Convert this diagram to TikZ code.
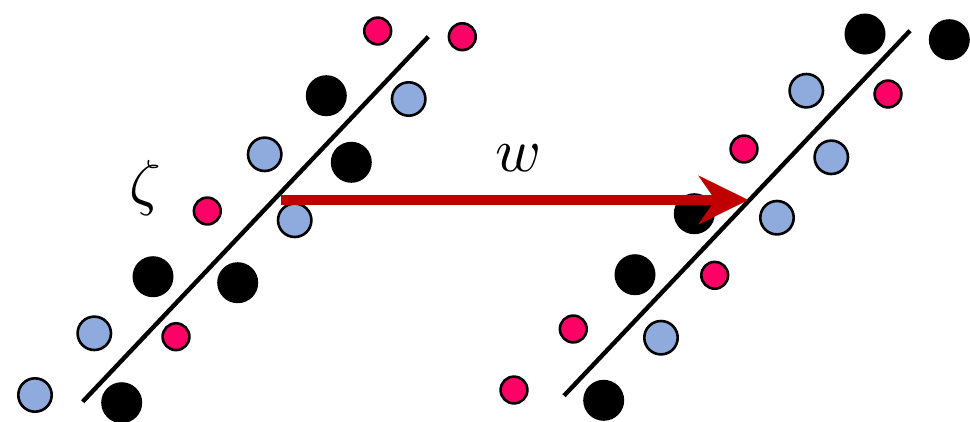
\documentclass[tikz,border=0pt]{standalone}
\usetikzlibrary{arrows.meta}
\definecolor{pinkc}{HTML}{FF0066}
\definecolor{bluec}{HTML}{8FAADC}
\definecolor{arrowred}{HTML}{C00000}
\begin{document}
\begin{tikzpicture}[x=1pt,y=-1pt,
  pinkdot/.style={circle,draw=black,line width=2.6pt,fill=pinkc,minimum size=26.8pt,inner sep=0pt},
  bluedot/.style={circle,draw=black,line width=2.6pt,fill=bluec,minimum size=33.4pt,inner sep=0pt},
  blackdot/.style={circle,fill=black,minimum size=41pt,inner sep=0pt},
  sepline/.style={line width=4.4pt,black},
  wvec/.style={line width=10pt,arrowred,-{Stealth[length=50pt,width=49pt,inset=17pt,line width=0.1pt]}},
  biglabel/.style={inner sep=0pt,scale=6.2}]
\useasboundingbox (0,0) rectangle (970,421);
% left panel dots
\node[pinkdot] (lp1) at (377.7,31) {};
\node[pinkdot] (lp2) at (462.3,36.7) {};
\node[pinkdot] (lp3) at (207.3,211) {};
\node[pinkdot] (lp4) at (176,336.7) {};
\node[bluedot] (lb1) at (408.7,99) {};
\node[bluedot] (lb2) at (264.7,154.3) {};
\node[bluedot] (lb3) at (294.7,220.3) {};
\node[bluedot] (lb4) at (94.3,333.3) {};
\node[bluedot] (lb5) at (35,395) {};
\node[blackdot] (lk1) at (326.3,95.7) {};
\node[blackdot] (lk2) at (351.3,162.3) {};
\node[blackdot] (lk3) at (153,276.7) {};
\node[blackdot] (lk4) at (237.7,282.7) {};
\node[blackdot] (lk5) at (121.7,402.7) {};
% right panel dots
\node[blackdot] (rk1) at (865,34) {};
\node[blackdot] (rk2) at (949.3,39.7) {};
\node[blackdot] (rk3) at (694.3,213.7) {};
\node[blackdot] (rk4) at (635,274.7) {};
\node[blackdot] (rk5) at (603.7,400.3) {};
\node[bluedot] (rb1) at (806.3,90.7) {};
\node[bluedot] (rb2) at (831.3,157.3) {};
\node[bluedot] (rb3) at (777,217.7) {};
\node[bluedot] (rb4) at (661,337.7) {};
\node[pinkdot] (rp1) at (888,94) {};
\node[pinkdot] (rp2) at (744,149) {};
\node[pinkdot] (rp3) at (714.7,275.3) {};
\node[pinkdot] (rp4) at (573.3,329) {};
\node[pinkdot] (rp5) at (514,390) {};
% separating lines
\coordinate (l0) at (82.7,401.7);
\coordinate (l1) at (428.3,36.7);
\coordinate (r0) at (564,395.7);
\coordinate (r1) at (910,30.7);
\draw[sepline] (l0) -- (l1);
\draw[sepline] (r0) -- (r1);
% arrow
\coordinate (a0) at (280.7,200);
\coordinate (a1) at (748.3,200);
\draw[wvec] (a0) -- (a1);
% labels
\node[biglabel] (zeta) at (145,188) {$\zeta$};
\node[biglabel] (wlab) at (518.3,158) {$w$};
\end{tikzpicture}
\end{document}
